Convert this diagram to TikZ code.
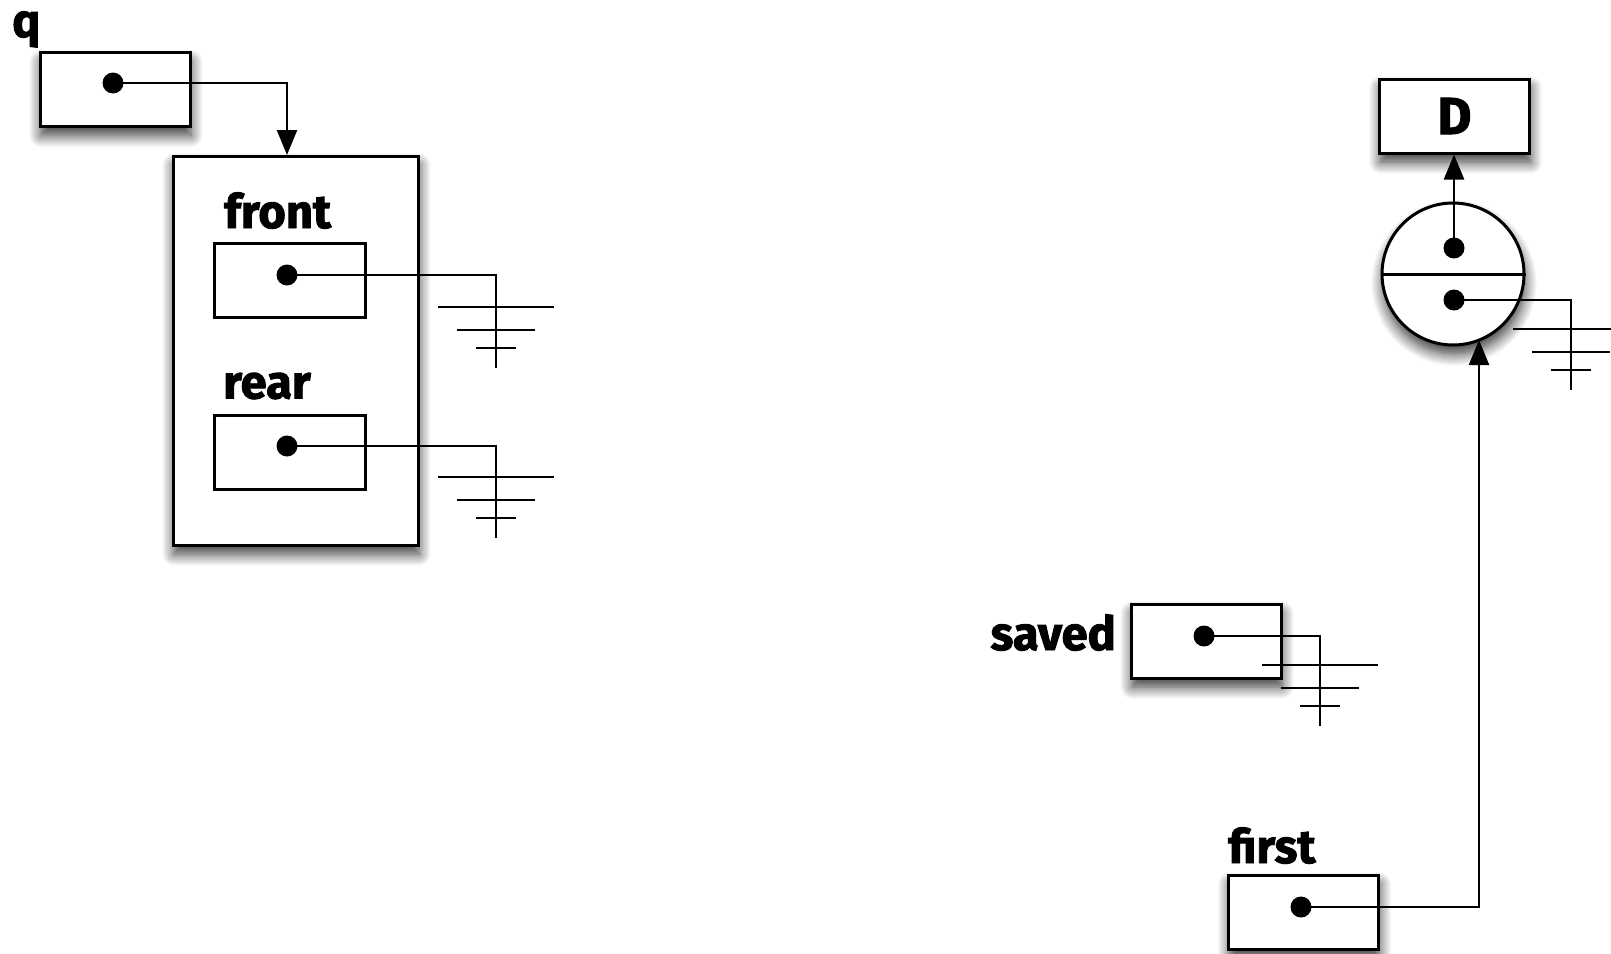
\documentclass[tikz,border=0pt]{standalone}
\usepackage{fontspec}
\newfontfamily\lblfont{Fira Sans}[BoldFeatures={FakeBold=2}]
\usetikzlibrary{arrows.meta,shadows.blur,calc}
\begin{document}
\begin{tikzpicture}[x=1pt,y=-1pt,
  cell/.style={draw,line width=3pt,fill=white,inner sep=0pt,minimum width=150pt,minimum height=74pt},
  shad/.style={blur shadow={shadow xshift=1pt,shadow yshift=-9pt,shadow blur radius=12pt,shadow blur steps=12,shadow opacity=80}},
  dot/.style={circle,fill=black,inner sep=0pt,minimum size=21pt},
  wire/.style={line width=2.4pt},
  arr/.style={wire,-{Triangle[length=25pt,width=20pt]}},
  lblf/.style={font=\lblfont\bfseries\fontsize{47}{50}\selectfont},
  lbl/.style={lblf,inner sep=0pt},
  gline/.style={line width=2.8pt},
  gnd/.pic={\draw[gline] (-58,-61) -- (58,-61) (-39,-38) -- (39,-38) (-20,-20) -- (20,-20);}
]
\useasboundingbox (0,0) rectangle (1611,953);

% q and the queue record
\node[lbl,anchor=base west] (qlbl) at (12,37) {q};
\node[cell,shad] (qbox) at (115,89.5) {};
\node[dot] (qdot) at (113,83) {};

\node[cell,shad,minimum width=245pt,minimum height=389pt] (st) at (295.5,350.5) {};
\node[lbl,anchor=base west] (frontlbl) at (224,228) {front};
\node[cell,minimum width=151pt] (fbox) at (290,280.5) {};
\node[dot] (fdot) at (287,275) {};
\node[lbl,anchor=base west] (rearlbl) at (223,398.5) {rear};
\node[cell,minimum width=151pt] (rbox) at (290,452) {};
\node[dot] (rdot) at (287,446) {};

\coordinate (qin) at (287,155);
\draw[arr] (qdot.center) -| (qin);
\coordinate (fg) at (496,368);
\draw[wire] (fdot.center) -| (fg);
\pic at (fg) {gnd};
\coordinate (rg) at (496,538);
\draw[wire] (rdot.center) -| (rg);
\pic at (rg) {gnd};

% node with D
\node[cell,shad,font=\lblfont\bfseries\fontsize{52}{54}\selectfont] (dbox) at (1454.5,116) {D};
\node[circle,draw,line width=3pt,fill=white,minimum size=142pt,inner sep=0pt,shad] (circ) at (1453,274) {};
\draw[line width=3pt] (circ.west) -- (circ.east);
\node[dot] (tdot) at (1454,248) {};
\node[dot] (bdot) at (1454,300) {};
\draw[arr] (tdot.center) -- (tdot.center |- dbox.south);
\coordinate (cg) at (1571,390);
\draw[wire] (bdot.center) -| (cg);
\pic at (cg) {gnd};

% saved
\node[lbl,anchor=base east] (savedlbl) at (1116,650) {saved};
\node[cell,shad] (sbox) at (1206,641) {};
\node[dot] (sdot) at (1204,636) {};
\coordinate (sg) at (1320,726);
\draw[wire] (sdot.center) -| (sg);
\pic at (sg) {gnd};

% first
\node[lbl,anchor=base west] (firstlbl) at (1228,863) {first};
\node[cell,shad] (fibox) at (1303.5,912) {};
\node[dot] (fidot) at (1301,907) {};
\coordinate (cin) at ($(circ.center)+(26,66)$);
\draw[arr] (fidot.center) -| (cin);
\end{tikzpicture}
\end{document}
